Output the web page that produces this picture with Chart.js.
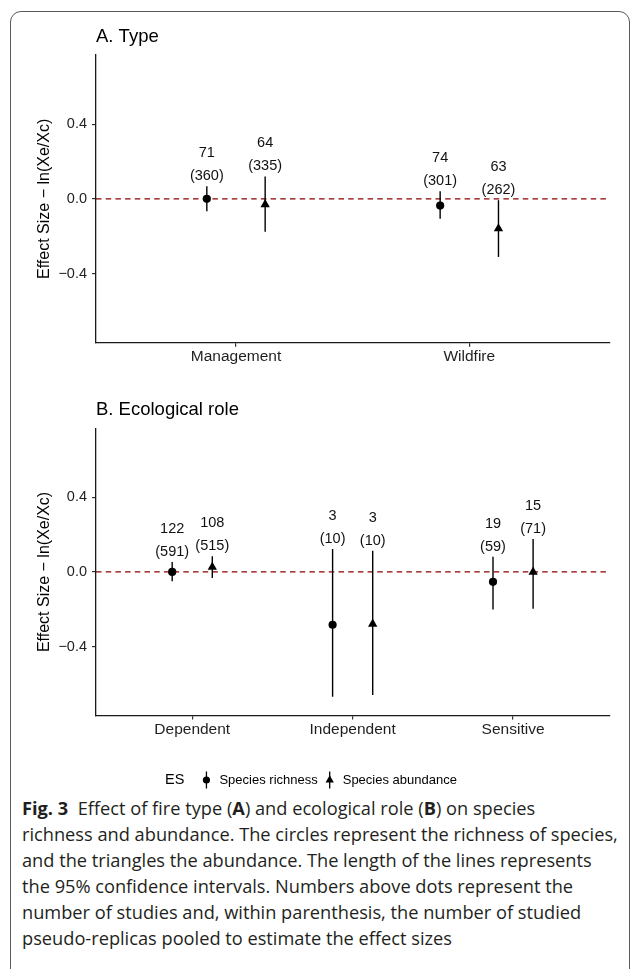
<!DOCTYPE html>
<html><head><meta charset="utf-8">
<script src="https://cdn.jsdelivr.net/npm/chart.js@4.4.1/dist/chart.umd.min.js"></script>
<style>
html,body{margin:0;padding:0;background:#fff;width:630px;height:969px;overflow:hidden;position:relative;}
#frame{position:absolute;left:10px;top:11px;width:620px;height:1000px;border:1px solid #5a5a5a;border-radius:11px;box-sizing:border-box;}
#wa{position:absolute;left:0;top:0;width:630px;height:380px;}
#wb{position:absolute;left:0;top:380px;width:630px;height:380px;}
#legend{position:absolute;left:0;top:765px;width:630px;height:30px;}
#caption{position:absolute;left:22px;top:795px;font-family:'Open Sans','Noto Sans',sans-serif;color:#231f20;line-height:26px;white-space:nowrap;font-size:17px;}
#caption b{font-weight:700;}
</style></head>
<body>
<div id="frame"></div>
<div id="wa"><canvas id="ca" width="630" height="380"></canvas></div>
<div id="wb"><canvas id="cb" width="630" height="380"></canvas></div>
<canvas id="legend" width="630" height="30"></canvas>
<div id="caption">
<div class="ln"><b>Fig. 3</b>&nbsp; Effect of fire type (<b>A</b>) and ecological role (<b>B</b>) on species</div>
<div class="ln" id="widest">richness and abundance. The circles represent the richness of species,</div>
<div class="ln">and the triangles the abundance. The length of the lines represents</div>
<div class="ln">the 95% confidence intervals. Numbers above dots represent the</div>
<div class="ln">number of studies and, within parenthesis, the number of studied</div>
<div class="ln">pseudo-replicas pooled to estimate the effect sizes</div>
</div>
<script>
// ---- Panel A: fire type ----
const typeCategories = ['Management', 'Wildfire'];
const typeRichness = [0.000, -0.036];
const typeRichnessLow = [-0.067, -0.107];
const typeRichnessHigh = [0.068, 0.041];
const typeAbundance = [-0.030, -0.159];
const typeAbundanceLow = [-0.176, -0.311];
const typeAbundanceHigh = [0.120, -0.007];
const typeRichnessStudies = [71, 74];
const typeRichnessReplicas = [360, 301];
const typeAbundanceStudies = [64, 63];
const typeAbundanceReplicas = [335, 262];

// ---- Panel B: ecological role ----
const roleCategories = ['Dependent', 'Independent', 'Sensitive'];
const roleRichness = [0.000, -0.283, -0.053];
const roleRichnessLow = [-0.050, -0.669, -0.201];
const roleRichnessHigh = [0.054, 0.123, 0.082];
const roleAbundance = [0.026, -0.279, 0.000];
const roleAbundanceLow = [-0.032, -0.660, -0.197];
const roleAbundanceHigh = [0.084, 0.114, 0.176];
const roleRichnessStudies = [122, 3, 19];
const roleRichnessReplicas = [591, 10, 59];
const roleAbundanceStudies = [108, 3, 15];
const roleAbundanceReplicas = [515, 10, 71];

// ---- axis ----
const yTicks = [-0.4, 0.0, 0.4];
const yLimits = [-0.77, 0.77];
const referenceValue = 0;
const yTitle = 'Effect Size \u2212 ln(Xe/Xc)';
const seriesNames = ['Species richness', 'Species abundance'];
const legendTitle = 'ES';

const FONT = '"Liberation Sans", Arial, Helvetica, sans-serif';
Chart.defaults.font.family = FONT;
const DODGE = 0.125;

function fmtTick(v) {
  return (v < 0 ? '\u2212' : '') + Math.abs(v).toFixed(1);
}

function makePanel(id, title, cats, rich, richLo, richHi, abun, abunLo, abunHi, rN, rK, aN, aK, padTop, titleY, axisH) {
  const n = cats.length;
  const series = [
    { off: -DODGE, lo: richLo, hi: richHi, n: rN, k: rK },
    { off: DODGE, lo: abunLo, hi: abunHi, n: aN, k: aK }
  ];
  const overlay = {
    id: 'overlay' + id,
    afterDatasetsDraw(chart) {
      const { ctx, scales: { x, y }, chartArea } = chart;
      ctx.save();
      // error bars
      ctx.strokeStyle = '#000';
      ctx.lineWidth = 1.4;
      series.forEach(s => {
        for (let i = 0; i < n; i++) {
          const px = x.getPixelForValue(i + 1 + s.off);
          ctx.beginPath();
          ctx.moveTo(px, y.getPixelForValue(s.lo[i]));
          ctx.lineTo(px, y.getPixelForValue(s.hi[i]));
          ctx.stroke();
        }
      });
      // study / replica labels
      ctx.fillStyle = '#111';
      ctx.font = '14.5px ' + FONT;
      ctx.textAlign = 'center';
      ctx.textBaseline = 'middle';
      series.forEach(s => {
        for (let i = 0; i < n; i++) {
          const px = x.getPixelForValue(i + 1 + s.off);
          const py = y.getPixelForValue(s.hi[i]);
          ctx.fillText('(' + s.k[i] + ')', px, py - 10);
          ctx.fillText(String(s.n[i]), px, py - 33);
        }
      });
      // panel title
      ctx.fillStyle = '#000';
      ctx.font = '18.5px ' + FONT;
      ctx.textAlign = 'left';
      ctx.fillText(title, chartArea.left, titleY);
      ctx.restore();
    }
  };
  return new Chart(document.getElementById(id), {
    type: 'scatter',
    data: {
      datasets: [
        {
          type: 'line',
          data: [{ x: 0.4, y: referenceValue }, { x: n + 0.6, y: referenceValue }],
          borderColor: '#8b0000', borderWidth: 1.3, borderDash: [5.5, 4.2],
          pointRadius: 0, order: 10
        },
        {
          label: seriesNames[0],
          data: rich.map((v, i) => ({ x: i + 1 - DODGE, y: v })),
          pointStyle: 'circle', pointRadius: 4.1,
          backgroundColor: '#000', borderColor: '#000', borderWidth: 0, order: 1
        },
        {
          label: seriesNames[1],
          data: abun.map((v, i) => ({ x: i + 1 + DODGE, y: v })),
          pointStyle: 'triangle', pointRadius: 5.4,
          backgroundColor: '#000', borderColor: '#000', borderWidth: 0, order: 1
        }
      ]
    },
    options: {
      responsive: false, animation: false, devicePixelRatio: 1,
      layout: { padding: { left: 0, right: 20.7, top: padTop, bottom: 0 } },
      plugins: { legend: { display: false }, tooltip: { enabled: false }, title: { display: false } },
      scales: {
        x: {
          type: 'linear', min: 0.4, max: n + 0.6,
          afterBuildTicks: s => { s.ticks = cats.map((c, i) => ({ value: i + 1 })); },
          ticks: { callback: v => cats[Math.round(v) - 1], color: '#1f1f1f', font: { size: 15.5 }, padding: 1, maxRotation: 0, autoSkip: false },
          grid: { drawOnChartArea: false, tickLength: 4, color: '#333', lineWidth: 1.2 },
          border: { color: '#1a1a1a', width: 1.3 },
          afterFit: s => { s.height = axisH; }
        },
        y: {
          min: yLimits[0], max: yLimits[1],
          afterBuildTicks: s => { s.ticks = yTicks.map(v => ({ value: v })); },
          ticks: { callback: v => fmtTick(v), color: '#1f1f1f', font: { size: 14.5 }, padding: 5 },
          grid: { drawOnChartArea: false, tickLength: 4, color: '#333', lineWidth: 1.2 },
          border: { color: '#1a1a1a', width: 1.3 },
          title: { display: true, text: yTitle, color: '#000', font: { size: 16 }, padding: { top: 35, bottom: 0 } },
          afterFit: s => { s.width = 96; }
        }
      }
    },
    plugins: [overlay]
  });
}

makePanel('ca', 'A. Type', typeCategories,
  typeRichness, typeRichnessLow, typeRichnessHigh,
  typeAbundance, typeAbundanceLow, typeAbundanceHigh,
  typeRichnessStudies, typeRichnessReplicas, typeAbundanceStudies, typeAbundanceReplicas,
  55, 37, 37.3);

makePanel('cb', 'B. Ecological role', roleCategories,
  roleRichness, roleRichnessLow, roleRichnessHigh,
  roleAbundance, roleAbundanceLow, roleAbundanceHigh,
  roleRichnessStudies, roleRichnessReplicas, roleAbundanceStudies, roleAbundanceReplicas,
  48.3, 29.5, 44.4);

// ---- legend ----
(function () {
  const c = document.getElementById('legend');
  const ctx = c.getContext('2d');
  const cy = 15;
  ctx.textBaseline = 'middle';
  ctx.font = '14.5px ' + FONT;
  const wT = ctx.measureText(legendTitle).width;
  ctx.font = '13px ' + FONT;
  const w1 = ctx.measureText(seriesNames[0]).width;
  const w2 = ctx.measureText(seriesNames[1]).width;
  const gTitleKey = 22, gKeyText = 13, gTextKey = 12;
  const total = wT + gTitleKey + gKeyText + w1 + gTextKey + gKeyText + w2;
  let x = 311 - total / 2;
  ctx.fillStyle = '#000';
  ctx.font = '14.5px ' + FONT;
  ctx.fillText(legendTitle, x, cy);
  x += wT + gTitleKey;
  function keyLine(kx) {
    ctx.strokeStyle = '#000'; ctx.lineWidth = 1.3;
    ctx.beginPath(); ctx.moveTo(kx, cy - 8.5); ctx.lineTo(kx, cy + 8.5); ctx.stroke();
  }
  let kx = x;
  keyLine(kx);
  ctx.beginPath(); ctx.arc(kx, cy, 3.6, 0, Math.PI * 2); ctx.fill();
  x += gKeyText;
  ctx.font = '13px ' + FONT;
  ctx.fillText(seriesNames[0], x, cy);
  x += w1 + gTextKey;
  kx = x;
  keyLine(kx);
  const r = 4.8;
  ctx.beginPath();
  ctx.moveTo(kx, cy - r);
  ctx.lineTo(kx + r * Math.sin(2 * Math.PI / 3), cy - r * Math.cos(2 * Math.PI / 3));
  ctx.lineTo(kx + r * Math.sin(4 * Math.PI / 3), cy - r * Math.cos(4 * Math.PI / 3));
  ctx.closePath(); ctx.fill();
  x += gKeyText;
  ctx.fillText(seriesNames[1], x, cy);
})();

// ---- fit caption width ----
(function () {
  const cap = document.getElementById('caption');
  const w = document.getElementById('widest');
  const span = document.createElement('span');
  span.textContent = w.textContent;
  w.textContent = '';
  w.appendChild(span);
  const target = 596;
  const cur = span.getBoundingClientRect().width;
  const fs = 17 * target / cur;
  cap.style.fontSize = fs.toFixed(2) + 'px';
})();
</script>
</body></html>
